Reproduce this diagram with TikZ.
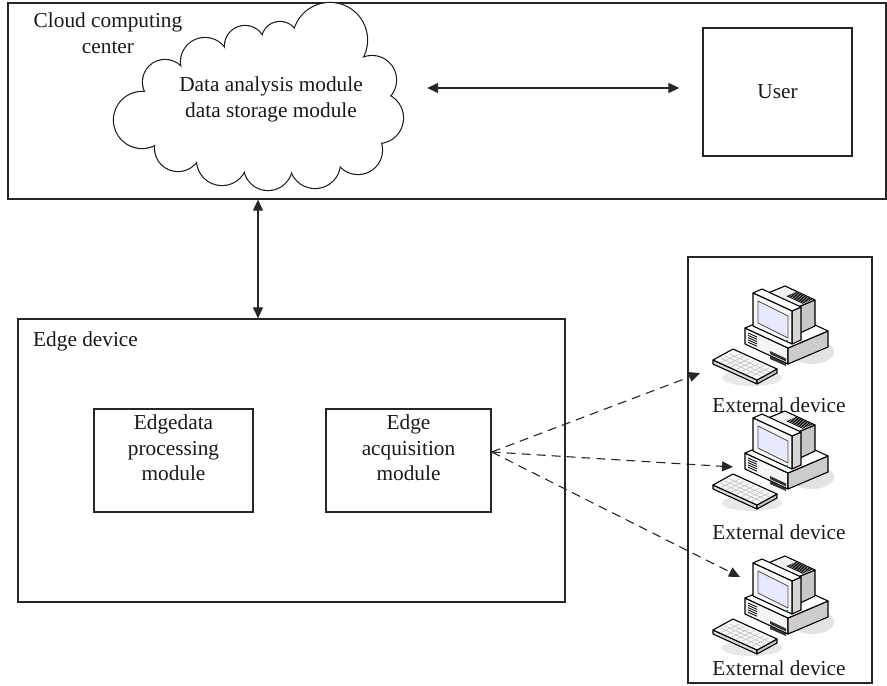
\documentclass[tikz,border=0pt]{standalone}
\usepackage{fontspec}
\setmainfont{Liberation Serif}
\usetikzlibrary{arrows.meta,calc}

\tikzset{
  % isometric desktop computer icon, local origin at its upper-left
  pc/.pic={
    \fill[black!11] (112,72) ellipse [x radius=22, y radius=12];
    \fill[black!9] (52,98) ellipse [x radius=30, y radius=8];
    \begin{scope}[draw=black, line width=1.1pt, line join=round]
      % system unit
      \filldraw[fill=black!4] (45,48) -- (88,68) -- (88,84) -- (45,64) -- cycle;
      \filldraw[fill=black!20] (88,68) -- (128,51) -- (128,67) -- (88,84) -- cycle;
      \filldraw[fill=white] (45,48) -- (88,68) -- (128,51) -- (85,31) -- cycle;
      \foreach \k in {0,...,4}
        \draw[line width=0.8pt] (48,{53+2.3*\k}) -- (57,{57+2.3*\k});
      \fill[black!80] (70,71) -- (86,78.5) -- (86,81.5) -- (70,74) -- cycle;
      \fill[black!80] (70,76) -- (86,83.5) -- (86,86) -- (70,79) -- cycle;
      % monitor tail with vents
      \filldraw[fill=black!22] (98,27) -- (115,20) -- (115,46) -- (98,54) -- cycle;
      \filldraw[fill=black!5] (68,13) -- (98,27) -- (115,20) -- (85,6) -- cycle;
      \foreach \b in {0.4,0.5,...,0.95}
        \draw[line width=0.9pt]
          ({68+30*0.4+17*\b},{13+14*0.4-7*\b}) -- ({68+30*0.95+17*\b},{13+14*0.95-7*\b});
      % monitor bezel
      \filldraw[fill=black!16] (92,31) -- (101,27) -- (101,60) -- (92,64) -- cycle;
      \filldraw[fill=white] (53,13) -- (92,31) -- (101,27) -- (62,9) -- cycle;
      \filldraw[fill=black!3] (53,13) -- (92,31) -- (92,64) -- (53,46) -- cycle;
      \filldraw[fill=blue!9, draw=black!70, line width=0.8pt]
        (58,21) -- (88,36) -- (88,58) -- (58,43) -- cycle;
      \fill[green!50!black] (87,61) circle [radius=1.2];
      % keyboard
      \filldraw[fill=black!14] (13,80) -- (57,100) -- (57,104) -- (13,84) -- cycle;
      \filldraw[fill=black!22] (57,100) -- (77,89) -- (77,93) -- (57,104) -- cycle;
      \filldraw[fill=black!3] (13,80) -- (33,69) -- (77,89) -- (57,100) -- cycle;
      \foreach \i in {1,...,7}
        \draw[black!25, line width=0.6pt]
          ($(16,80)!\i/8!(57,98.5)$) -- ($(34,72)!\i/8!(74,90)$);
      \foreach \j in {1,2,3}
        \draw[black!25, line width=0.6pt]
          ($(16,80)!\j/4!(34,72)$) -- ($(57,98.5)!\j/4!(74,90)$);
    \end{scope}
  }
}

\begin{document}
\begin{tikzpicture}[x=1pt, y=-1pt,
  frame/.style={draw=black!85, line width=1.3pt, inner sep=0pt},
  lbl/.style={font=\fontsize{21.3}{25.5}\selectfont, align=center, inner sep=0pt, text=black!90},
  arr/.style={draw=black!85, line width=1.1pt, {Triangle[length=11pt, width=10pt]}-{Triangle[length=11pt, width=10pt]}},
  dasharr/.style={draw=black!85, line width=1.1pt, dash pattern=on 9pt off 6pt, -{Triangle[length=11pt, width=10pt]}},
]
\useasboundingbox (0,0) rectangle (887,686);

% cloud computing center
\node[frame, minimum width=878pt, minimum height=196pt] (cc) at (447,101) {};

% cloud outline: union of puffs (thick strokes first, white fills on top)
\def\puffs{142/120/28, 165/82/22, 205/62/24, 245/46/20, 280/40/18, 330/40/37,
  372/80/24, 378/118/25, 358/150/24, 315/163/25, 268/166/24, 222/160/25, 178/148/23}
\foreach \cx/\cy/\rr in \puffs
  \draw[draw=black!90, line width=2.3pt] (\cx,\cy) circle [radius=\rr];
\foreach \cx/\cy/\rr in \puffs
  \fill[white] (\cx,\cy) circle [radius=\rr];
\fill[white] (142,120) -- (165,82) -- (205,62) -- (245,46) -- (280,40) -- (330,40)
  -- (372,80) -- (378,118) -- (358,150) -- (315,163) -- (268,166) -- (222,160)
  -- (178,148) -- cycle;
\node[minimum width=290pt, minimum height=187pt, inner sep=0pt] (cloud) at (258,96.5) {};

\node[lbl] (cctitle) at (108,33) {Cloud computing\\center};
\node[lbl] (cloudtext) at (271,99.5) {Data analysis module\\data storage module};
\node[frame, minimum width=149pt, minimum height=128pt] (user) at (777.5,92) {};
\node[lbl] (usertext) at (777.5,92) {User};

% edge device
\node[frame, minimum width=547pt, minimum height=283pt] (edge) at (291.5,460.5) {};
\node[lbl, anchor=west] (edgetitle) at (33,341) {Edge device};
\node[frame, minimum width=159pt, minimum height=103pt] (proc) at (173.5,460.5) {};
\node[lbl] (proctext) at (173.5,448) {Edgedata\\processing\\module};
\node[frame, minimum width=165pt, minimum height=103pt] (acq) at (408.5,460.5) {};
\node[lbl] (acqtext) at (408.5,448) {Edge\\acquisition\\module};

% external devices
\node[frame, minimum width=184pt, minimum height=426pt] (ext) at (780,470) {};
\pic (pc1) at (700,280) {pc};
\pic (pc2) at (700,405) {pc};
\pic (pc3) at (700,550) {pc};
\node[lbl] (ext1) at (779,405) {External device};
\node[lbl] (ext2) at (779,532) {External device};
\node[lbl] (ext3) at (779,668) {External device};

% connectors
\coordinate (hy) at (0,88);
\draw[arr, shorten <=24pt, shorten >=23pt] (cloud.east |- hy) -- (user.west |- hy);
\draw[arr] (cc.south -| cloud.center) -- (edge.north -| cloud.center);

\coordinate (t1) at (700,373);
\coordinate (t2) at (733,467);
\coordinate (t3) at (740,577);
\draw[dasharr] ([yshift=8.5pt]acq.east) -- (t1);
\draw[dasharr] ([yshift=8.5pt]acq.east) -- (t2);
\draw[dasharr] ([yshift=8.5pt]acq.east) -- (t3);
\end{tikzpicture}
\end{document}
